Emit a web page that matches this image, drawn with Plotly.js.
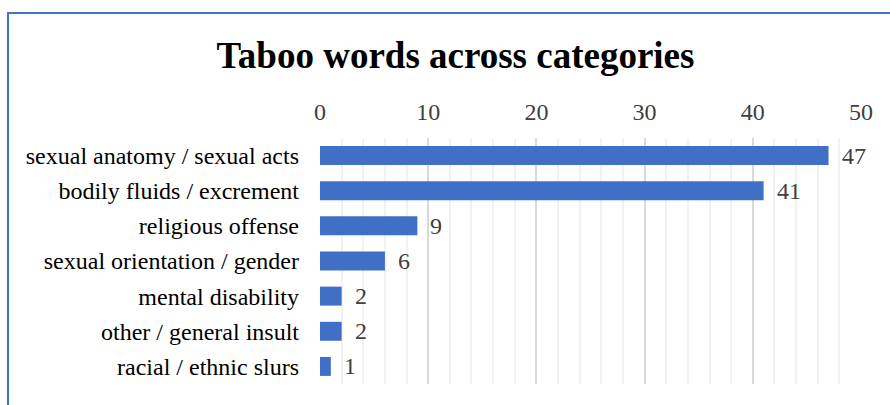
<!DOCTYPE html>
<html>
<head>
<meta charset="utf-8">
<script src="https://cdn.plot.ly/plotly-3.0.1.min.js"></script>
<style>
  html, body { margin: 0; padding: 0; background: #fff; }
  #wrap { position: relative; width: 890px; height: 405px; overflow: hidden; }
  #chart { position: absolute; left: 0; top: 0; width: 890px; height: 405px; }
  #frame { position: absolute; left: 7px; top: 12px; width: 900px; height: 420px;
           border-left: 2px solid #4472C4; border-top: 2px solid #4472C4; pointer-events: none; }
</style>
</head>
<body>
<div id="wrap">
  <div id="chart"></div>
  <div id="frame"></div>
</div>
<script>
const categories = [
  "sexual anatomy / sexual acts",
  "bodily fluids / excrement",
  "religious offense",
  "sexual orientation / gender",
  "mental disability",
  "other / general insult",
  "racial / ethnic slurs"
];
const counts = [47, 41, 9, 6, 2, 2, 1];
const tickValues = [0, 10, 20, 30, 40, 50];
const titleText = "Taboo words across categories";

const serif = '"Liberation Serif", "Times New Roman", Times, serif';

const trace = {
  type: 'bar',
  orientation: 'h',
  x: counts,
  y: categories,
  marker: { color: '#4070C6', line: { width: 0 } },
  hoverinfo: 'x+y',
  showlegend: false
};

const annotations = counts.map((v, i) => ({
  x: v, y: categories[i], xref: 'x', yref: 'y',
  text: String(v), showarrow: false,
  xanchor: 'left', yanchor: 'middle', xshift: 11, yshift: 0,
  font: { family: serif, size: 24, color: '#404040' }
}));

const layout = {
  width: 890, height: 405,
  margin: { l: 320, r: 29, t: 138, b: 21, pad: 0 },
  paper_bgcolor: '#ffffff',
  plot_bgcolor: '#ffffff',
  title: {
    text: '<b>' + titleText + '</b>',
    font: { family: serif, size: 37, color: '#000000' },
    x: 455.5 / 890, xanchor: 'center', xref: 'container',
    y: 1 - 55 / 405, yanchor: 'middle', yref: 'container'
  },
  bargap: 0.46,
  xaxis: {
    side: 'top',
    range: [0, 50],
    tickvals: tickValues,
    ticktext: tickValues.map(String),
    showgrid: true,
    gridcolor: '#d9d9d9',
    gridwidth: 2,
    zeroline: false,
    showline: false,
    ticks: '',
    ticklabelstandoff: 12,
    tickfont: { family: serif, size: 24, color: '#404040' },
    minor: { dtick: 2, showgrid: true, gridcolor: '#f2f2f2', gridwidth: 2 },
    fixedrange: true
  },
  yaxis: {
    type: 'category',
    autorange: 'reversed',
    showgrid: false,
    zeroline: false,
    showline: false,
    ticks: '',
    ticklabelstandoff: 20,
    tickfont: { family: serif, size: 24, color: '#000000' },
    fixedrange: true
  },
  annotations: annotations
};

Plotly.newPlot('chart', [trace], layout, { displayModeBar: false, staticPlot: true });
</script>
</body>
</html>
